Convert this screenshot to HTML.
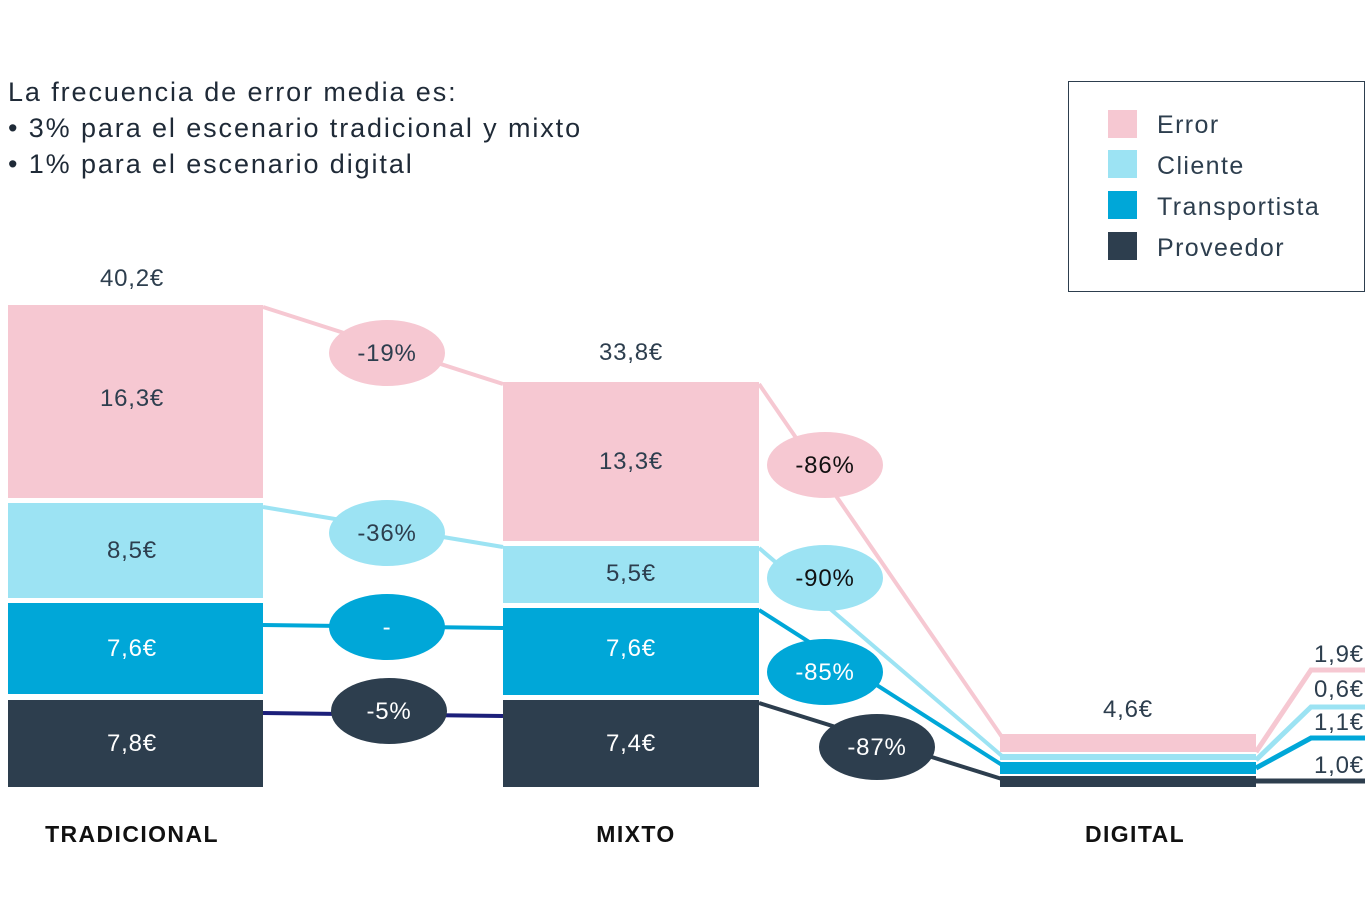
<!DOCTYPE html>
<html><head><meta charset="utf-8"><style>
body{margin:0;background:#fff;}
svg{display:block;font-family:"Liberation Sans",sans-serif;}
</style></head><body>
<svg width="1369" height="921" viewBox="0 0 1369 921">
<g fill="#1f2a37" font-size="27" letter-spacing="1.9">
<text x="8" y="101">La frecuencia de error media es:</text>
<text x="8" y="137">•  3% para el escenario tradicional y mixto</text>
<text x="8" y="173">•  1% para el escenario digital</text>
</g>
<rect x="1068.5" y="81.5" width="296" height="210" fill="none" stroke="#2d3e4e" stroke-width="1"/>
<rect x="1108" y="110" width="29" height="28" fill="#f6c8d2"/>
<rect x="1108" y="150" width="29" height="28" fill="#9ce3f3"/>
<rect x="1108" y="191" width="29" height="28" fill="#00a7d8"/>
<rect x="1108" y="232" width="29" height="28" fill="#2d3e4e"/>
<g fill="#2d3e4e" font-size="25" letter-spacing="1.4">
<text x="1157" y="133">Error</text><text x="1157" y="174">Cliente</text>
<text x="1157" y="215">Transportista</text><text x="1157" y="256">Proveedor</text>
</g>
<g stroke-width="4" fill="none">
<polyline points="263,307 503,384" stroke="#f6c8d2"/>
<polyline points="263,507 503,547" stroke="#9ce3f3"/>
<polyline points="263,625 503,628" stroke="#00a7d8"/>
<polyline points="263,713 503,716" stroke="#1c1f7a"/>
<polyline points="759,384 1002,737" stroke="#f6c8d2"/>
<polyline points="759,548 1002,756" stroke="#9ce3f3"/>
<polyline points="759,610 1002,765" stroke="#00a7d8"/>
<polyline points="759,703 1002,779" stroke="#2d3e4e"/>
<polyline points="1256,752 1311,670 1365,670" stroke="#f6c8d2" stroke-width="5"/>
<polyline points="1256,760 1311,707 1365,707" stroke="#9ce3f3" stroke-width="5"/>
<polyline points="1256,768 1311,738 1365,738" stroke="#00a7d8" stroke-width="5"/>
<polyline points="1256,781 1365,781" stroke="#2d3e4e" stroke-width="5"/>
</g>
<rect x="8" y="305" width="255" height="193" fill="#f6c8d2"/>
<rect x="8" y="503" width="255" height="95" fill="#9ce3f3"/>
<rect x="8" y="603" width="255" height="91" fill="#00a7d8"/>
<rect x="8" y="700" width="255" height="87" fill="#2d3e4e"/>
<rect x="503" y="382" width="256" height="159" fill="#f6c8d2"/>
<rect x="503" y="546" width="256" height="57" fill="#9ce3f3"/>
<rect x="503" y="608" width="256" height="87" fill="#00a7d8"/>
<rect x="503" y="700" width="256" height="87" fill="#2d3e4e"/>
<rect x="1000" y="734" width="256" height="18" fill="#f6c8d2"/>
<rect x="1000" y="754" width="256" height="6" fill="#9ce3f3"/>
<rect x="1000" y="762" width="256" height="12" fill="#00a7d8"/>
<rect x="1000" y="776" width="256" height="11" fill="#2d3e4e"/>
<ellipse cx="387" cy="353" rx="58" ry="33" fill="#f6c8d2"/>
<ellipse cx="387" cy="533" rx="58" ry="33" fill="#9ce3f3"/>
<ellipse cx="387" cy="627" rx="58" ry="33" fill="#00a7d8"/>
<ellipse cx="389" cy="711" rx="58" ry="33" fill="#2d3e4e"/>
<ellipse cx="825" cy="465" rx="58" ry="33" fill="#f6c8d2"/>
<ellipse cx="825" cy="578" rx="58" ry="33" fill="#9ce3f3"/>
<ellipse cx="825" cy="672" rx="58" ry="33" fill="#00a7d8"/>
<ellipse cx="877" cy="747" rx="58" ry="33" fill="#2d3e4e"/>
<g font-size="24" text-anchor="middle" fill="#2d3e4e" letter-spacing="0.8">
<text x="387" y="361">-19%</text>
<text x="387" y="541">-36%</text>
<text x="387" y="635" fill="#fff">-</text>
<text x="389" y="719" fill="#fff">-5%</text>
<text x="825" y="473" fill="#111">-86%</text>
<text x="825" y="586" fill="#111">-90%</text>
<text x="825" y="680" fill="#fff">-85%</text>
<text x="877" y="755" fill="#fff">-87%</text>
<text x="132" y="286">40,2€</text>
<text x="132" y="406">16,3€</text>
<text x="132" y="558">8,5€</text>
<text x="132" y="656" fill="#fff">7,6€</text>
<text x="132" y="751" fill="#fff">7,8€</text>
<text x="631" y="360">33,8€</text>
<text x="631" y="469">13,3€</text>
<text x="631" y="581">5,5€</text>
<text x="631" y="656" fill="#fff">7,6€</text>
<text x="631" y="751" fill="#fff">7,4€</text>
<text x="1128" y="717">4,6€</text>
<text x="1339" y="662">1,9€</text>
<text x="1339" y="697">0,6€</text>
<text x="1339" y="730">1,1€</text>
<text x="1339" y="773">1,0€</text>
</g>
<g font-size="23" text-anchor="middle" fill="#111" font-weight="bold" letter-spacing="1.4">
<text x="132" y="842">TRADICIONAL</text>
<text x="636" y="842">MIXTO</text>
<text x="1135" y="842">DIGITAL</text>
</g>
</svg>
</body></html>
